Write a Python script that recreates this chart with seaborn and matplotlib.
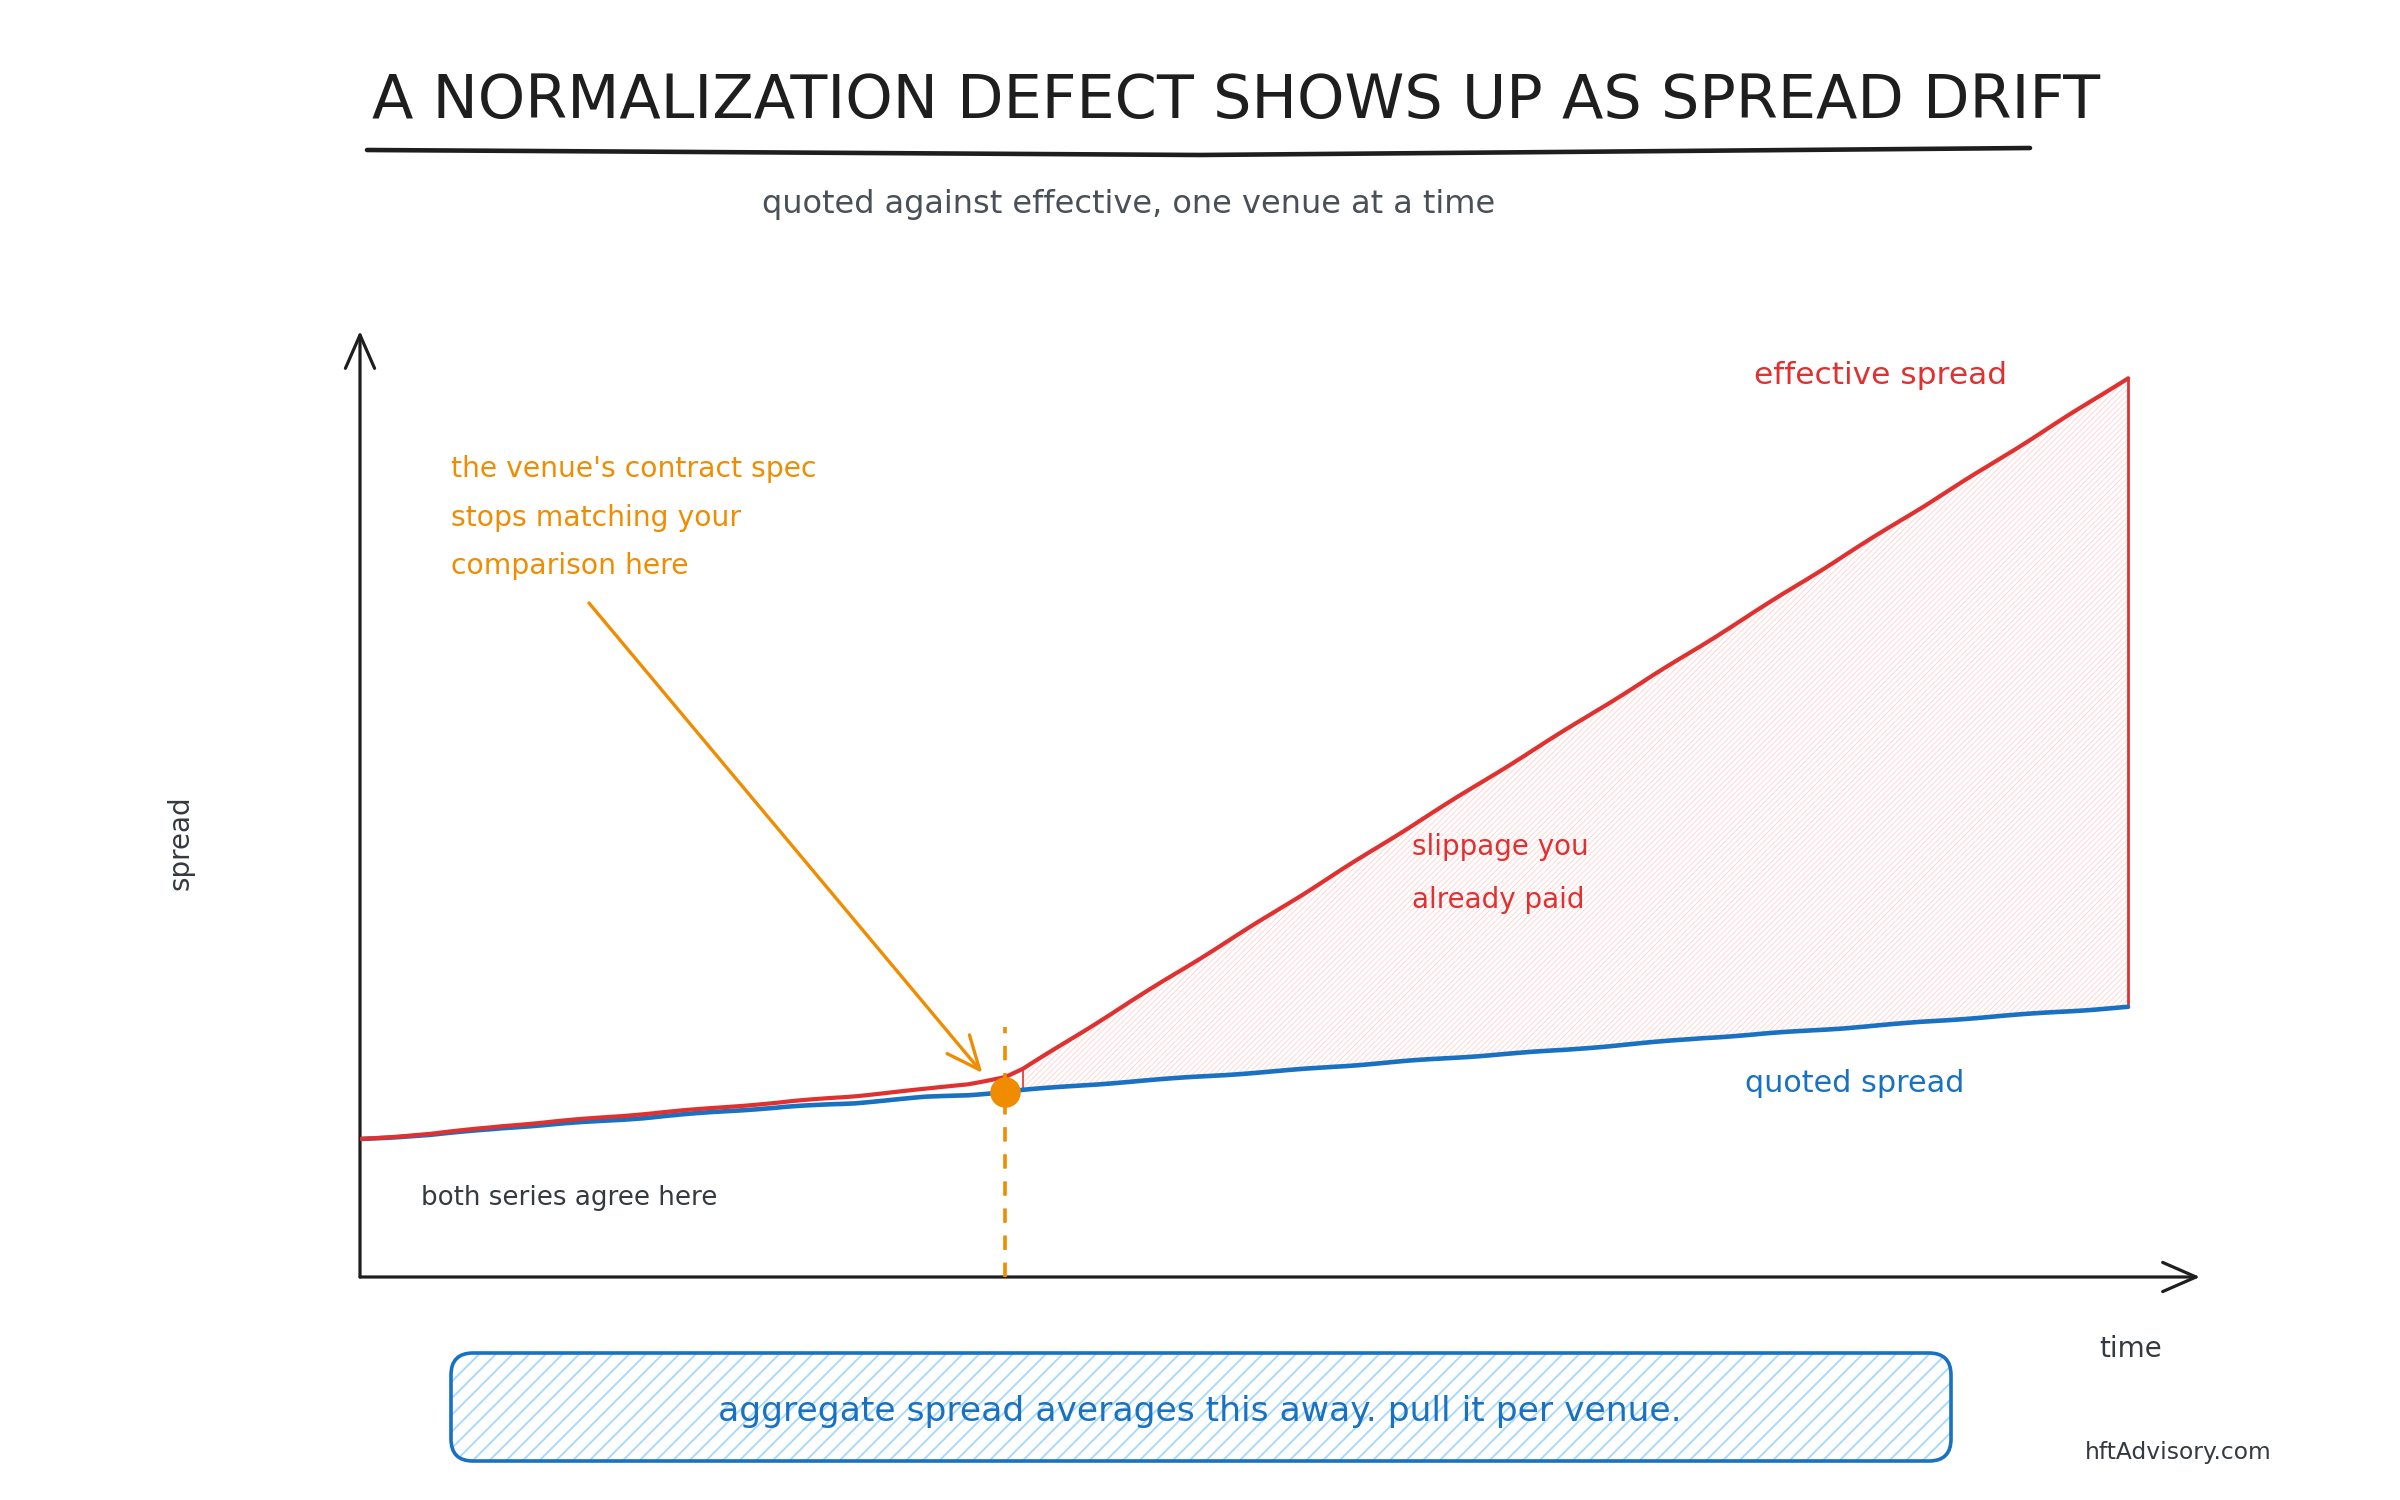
import numpy as np
import pandas as pd
import matplotlib
matplotlib.use("Agg")
import matplotlib.pyplot as plt
import seaborn as sns
from matplotlib.patches import FancyBboxPatch
from matplotlib.lines import Line2D

# ---------------- data ----------------
time_pts = [0, 4, 8, 12, 16, 20, 24, 28, 32, 34.4, 36.5, 37.5, 44, 52, 60, 68, 76, 84, 92, 100]
quoted = [1.38, 1.42, 1.49, 1.54, 1.59, 1.65, 1.70, 1.74, 1.80, 1.82, 1.85, 1.87, 1.96, 2.06, 2.17, 2.27, 2.39, 2.49, 2.60, 2.70]
effective = [1.38, 1.43, 1.51, 1.57, 1.63, 1.69, 1.75, 1.81, 1.88, 1.93, 2.00, 2.08, 2.80, 3.68, 4.57, 5.45, 6.33, 7.22, 8.10, 8.99]
break_time = 36.5
break_value = 1.85
drift_start = 37.5
marker_top = 2.5

title = "A NORMALIZATION DEFECT SHOWS UP AS SPREAD DRIFT"
subtitle = "quoted against effective, one venue at a time"
label_effective = "effective spread"
label_quoted = "quoted spread"
label_slippage = ["slippage you", "already paid"]
label_callout = ["the venue's contract spec", "stops matching your", "comparison here"]
label_agree = "both series agree here"
footer_box = "aggregate spread averages this away. pull it per venue."
x_label = "time"
y_label = "spread"
credit = "hftAdvisory.com"

RED = "#e03131"
BLUE = "#1971c2"
ORANGE = "#f08c00"
INK = "#1e1e1e"
GREY = "#343a40"
SUB = "#495057"

df = pd.DataFrame({"time": time_pts, "quoted": quoted, "effective": effective})

sns.set_theme(style="white")
plt.rcParams["font.family"] = ["DejaVu Sans"]


def set_hatch_lw(artist, lw):
    try:
        artist.set_hatch_linewidth(lw)
    except AttributeError:
        plt.rcParams["hatch.linewidth"] = lw


fig = plt.figure(figsize=(24, 15), dpi=100)
fig.patch.set_facecolor("white")
ax = fig.add_axes([360 / 2400, 1 - 1277 / 1500, (2200 - 360) / 2400, (1277 - 331) / 1500])
ax.set_xlim(0, 104.07)
ax.set_ylim(0, 9.46)

# hatched slippage area
t = np.array(time_pts)
mask = t >= drift_start
plt.rcParams["hatch.linewidth"] = 0.7
area = ax.fill_between(df["time"], df["quoted"], df["effective"], where=mask, interpolate=False,
                       facecolor="white", edgecolor="#ffd6d6", hatch="//////", linewidth=0, zorder=1)
set_hatch_lw(area, 0.7)

sns.lineplot(data=df, x="time", y="quoted", color=BLUE, linewidth=3.3, ax=ax, legend=False, zorder=3)
sns.lineplot(data=df, x="time", y="effective", color=RED, linewidth=3.0, ax=ax, legend=False, zorder=4)
for ln in ax.get_lines():
    ln.set_sketch_params(0.35, 150, 3)
    ln.set_solid_capstyle("round")

# closing edges of the area
i0 = time_pts.index(drift_start)
ax.plot([drift_start, drift_start], [quoted[i0], effective[i0]], color=RED, lw=1.2, zorder=2)
ax.plot([time_pts[-1], time_pts[-1]], [quoted[-1], effective[-1]], color=RED, lw=2.0, zorder=2)

# break marker
ax.plot([break_time, break_time], [0, marker_top], color=ORANGE, lw=2.6, ls=(0, (4, 3.5)), zorder=5)
ax.plot([break_time], [break_value], marker="o", ms=21, color=ORANGE, mec=ORANGE, zorder=6)

# callout arrow
ax.annotate("", xy=(35.2, 2.04), xytext=(12.95, 6.74), xycoords="data",
            arrowprops=dict(arrowstyle="->,head_length=0.8,head_width=0.35", mutation_scale=30,
                            color=ORANGE, lw=2.4, shrinkA=0, shrinkB=0), zorder=7)

# axes arrows
for end in [(1, 0), (0, 1)]:
    ax.annotate("", xy=end, xytext=(0, 0), xycoords="axes fraction",
                arrowprops=dict(arrowstyle="->,head_length=0.8,head_width=0.35", mutation_scale=30,
                                color=INK, lw=2.3, shrinkA=0, shrinkB=0))
ax.set_axis_off()

T = fig.dpi_scale_trans


def P(px, py):
    return (px / 100, (1500 - py) / 100)


fig.text(*P(1236, 118), title, transform=T, ha="center", va="baseline", fontsize=43.6, color=INK)
fig.add_artist(Line2D([367 / 100, 1200 / 100, 2030 / 100], [(1500 - 150) / 100, (1500 - 155) / 100, (1500 - 148) / 100],
                      transform=T, color=INK, lw=3.3, solid_capstyle="round"))
fig.text(*P(762, 205), subtitle, transform=T, ha="left", va="center", fontsize=23, color=SUB)

fig.text(*P(1754, 375), label_effective, transform=T, ha="left", va="center", fontsize=22.5, color=RED)
fig.text(*P(1745, 1083), label_quoted, transform=T, ha="left", va="center", fontsize=21.8, color=BLUE)
for k, s in enumerate(label_slippage):
    fig.text(*P(1412, 847 + 53 * k), s, transform=T, ha="left", va="center", fontsize=20, color=RED)
for k, s in enumerate(label_callout):
    fig.text(*P(451, 469 + 48.5 * k), s, transform=T, ha="left", va="center", fontsize=20.3, color=ORANGE)
fig.text(*P(421, 1198), label_agree, transform=T, ha="left", va="center", fontsize=18.8, color=GREY)

fig.text(*P(181, 843), y_label, transform=T, ha="center", va="center", rotation=90, fontsize=20, color=GREY)
fig.text(*P(2131, 1349), x_label, transform=T, ha="center", va="center", fontsize=20, color=GREY)
fig.text(*P(2085, 1452), credit, transform=T, ha="left", va="center", fontsize=16.8, color=GREY)

# footer box
bx, by, bw, bh = 451 / 100, (1500 - 1461) / 100, (1951 - 451) / 100, (1461 - 1353) / 100
plt.rcParams["hatch.linewidth"] = 1.3
box_fill = FancyBboxPatch((bx, by), bw, bh, boxstyle="round,pad=0,rounding_size=0.22", transform=T,
                          facecolor="white", edgecolor="#a5d8ff", hatch="//", linewidth=0)
set_hatch_lw(box_fill, 1.3)
fig.add_artist(box_fill)
fig.add_artist(FancyBboxPatch((bx, by), bw, bh, boxstyle="round,pad=0,rounding_size=0.22", transform=T,
                              facecolor="none", edgecolor=BLUE, linewidth=2.6))
fig.text(*P(1200, 1412), footer_box, transform=T, ha="center", va="center", fontsize=24.8, color=BLUE)

fig.savefig("out.png", dpi=100, facecolor="white")
